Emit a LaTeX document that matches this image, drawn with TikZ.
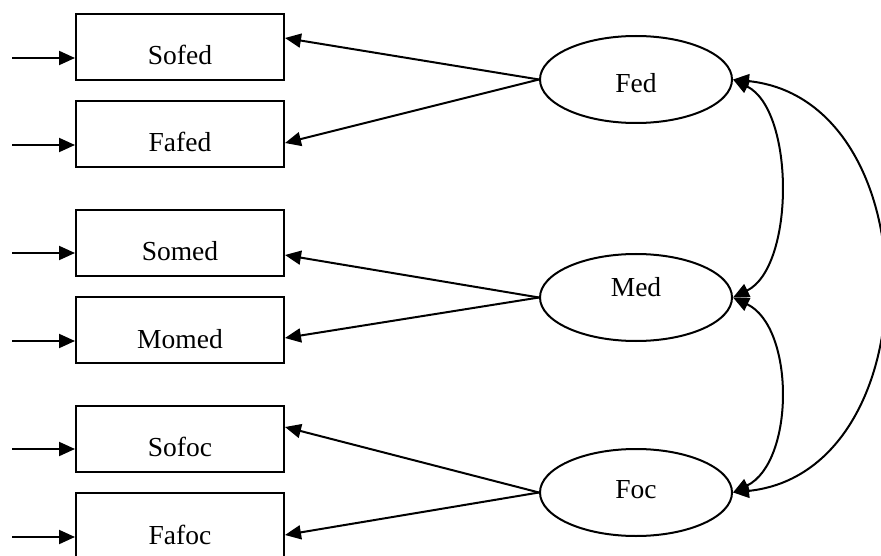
\documentclass[tikz,border=0pt]{standalone}
\usepackage{fontspec}
\setmainfont{Liberation Serif}
\usetikzlibrary{arrows.meta,shapes.geometric,calc}
\begin{document}
\begin{tikzpicture}[x=1pt,y=-1pt,
  line width=2pt,
  >={Triangle[length=16pt,width=14pt]},
  obs/.style={draw,rectangle,minimum width=208pt,minimum height=66pt,inner sep=0pt,
    text height=36pt,text depth=0pt,font=\fontsize{27.5}{30}\selectfont},
  lat/.style={draw,ellipse,minimum width=192pt,minimum height=87pt,inner sep=0pt,
    font=\fontsize{27.5}{30}\selectfont}]
\useasboundingbox (0,0) rectangle (881,556);
\clip (0,0) rectangle (881,556);
% observed variables
\node[obs] (Sofed) at (180,47) {Sofed};
\node[obs] (Fafed) at (180,134) {Fafed};
\node[obs] (Somed) at (180,243) {Somed};
\node[obs] (Momed) at (180,330) {Momed};
\node[obs] (Sofoc) at (180,438.5) {Sofoc};
\node[obs] (Fafoc) at (180,526) {Fafoc};
% latent variables
\node[lat,text height=26.4pt,text depth=0pt] (Fed) at (636,79.5) {Fed};
\node[lat,text height=0pt,text depth=1.6pt] (Med) at (636,297.5) {Med};
\node[lat,text height=12.4pt,text depth=0pt] (Foc) at (636,492.5) {Foc};
% error inputs
\coordinate (e1) at (12,58);
\coordinate (e2) at (12,145);
\coordinate (e3) at (12,253);
\coordinate (e4) at (12,341);
\coordinate (e5) at (12,449);
\coordinate (e6) at (12,537);
\draw[->] (e1) -- (e1 -| Sofed.west);
\draw[->] (e2) -- (e2 -| Fafed.west);
\draw[->] (e3) -- (e3 -| Somed.west);
\draw[->] (e4) -- (e4 -| Momed.west);
\draw[->] (e5) -- (e5 -| Sofoc.west);
\draw[->] (e6) -- (e6 -| Fafoc.west);
% loadings
\draw[->] (Fed.west) -- ($(Sofed.east)+(0,-9)$);
\draw[->] (Fed.west) -- ($(Fafed.east)+(0,9)$);
\draw[->] (Med.west) -- ($(Somed.east)+(0,12)$);
\draw[->] (Med.west) -- ($(Momed.east)+(0,8)$);
\draw[->] (Foc.west) -- ($(Sofoc.east)+(0,-11.5)$);
\draw[->] (Foc.west) -- ($(Fafoc.east)+(0,9)$);
% covariances
\draw[<->] (Fed.east) .. controls (795,110) and (795,267) .. (Med.east);
\draw[<->] (Med.east) .. controls (795,327) and (795,462) .. (Foc.east);
\draw[<->] (Fed.east) .. controls (932,100) and (932,472) .. (Foc.east);
\end{tikzpicture}
\end{document}
